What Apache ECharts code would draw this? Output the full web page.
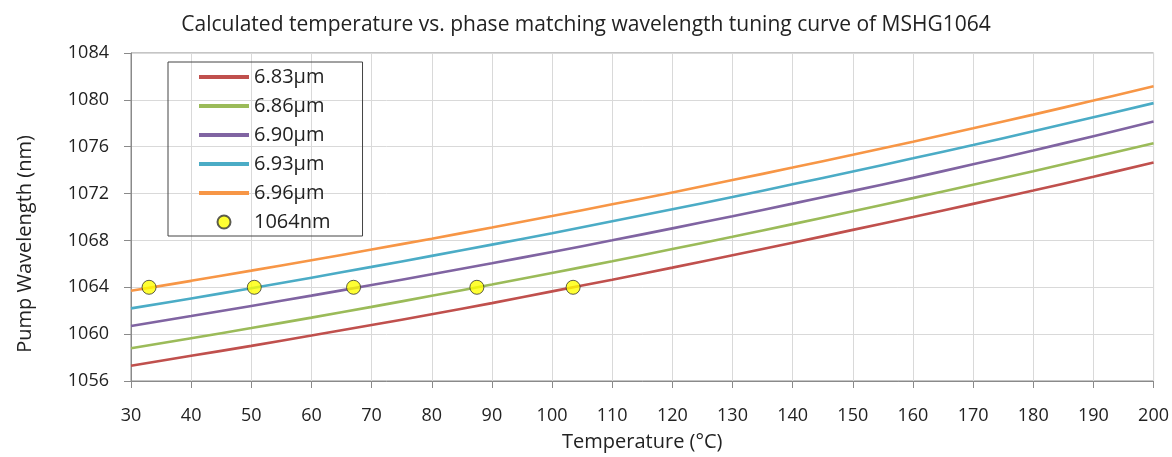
<!DOCTYPE html>
<html>
<head>
<meta charset="utf-8">
<script src="https://cdn.jsdelivr.net/npm/echarts@6/dist/echarts.min.js"></script>
<style>
  html, body { margin: 0; padding: 0; background: #fff; }
  #chart { width: 1172px; height: 457px; }
</style>
</head>
<body>
<div id="chart"></div>
<script>
// temperature (°C)
var temps = [30, 40, 50, 60, 70, 80, 90, 100, 110, 120, 130, 140, 150, 160, 170, 180, 190, 200];
// pump wavelength (nm) for each QPM period
var wl683 = [1057.3, 1058.15, 1059.0, 1059.88, 1060.78, 1061.7, 1062.65, 1063.65, 1064.65, 1065.68, 1066.73, 1067.8, 1068.9, 1070.0, 1071.12, 1072.26, 1073.44, 1074.65];
var wl686 = [1058.8, 1059.65, 1060.52, 1061.41, 1062.33, 1063.27, 1064.23, 1065.22, 1066.23, 1067.26, 1068.31, 1069.39, 1070.49, 1071.61, 1072.75, 1073.91, 1075.1, 1076.3];
var wl690 = [1060.7, 1061.55, 1062.41, 1063.29, 1064.19, 1065.11, 1066.05, 1067.02, 1068.01, 1069.03, 1070.07, 1071.14, 1072.23, 1073.34, 1074.5, 1075.68, 1076.9, 1078.15];
var wl693 = [1062.2, 1063.05, 1063.92, 1064.82, 1065.74, 1066.68, 1067.64, 1068.62, 1069.63, 1070.66, 1071.71, 1072.79, 1073.89, 1075.01, 1076.15, 1077.32, 1078.51, 1079.72];
var wl696 = [1063.7, 1064.55, 1065.42, 1066.31, 1067.22, 1068.15, 1069.1, 1070.08, 1071.08, 1072.1, 1073.15, 1074.22, 1075.31, 1076.43, 1077.57, 1078.74, 1079.94, 1081.17];
// 1064nm phase matching points
var pmTemps = [33, 50.5, 67, 87.5, 103.5];
var pmWl = [1064, 1064, 1064, 1064, 1064];

var names = ['6.83µm', '6.86µm', '6.90µm', '6.93µm', '6.96µm'];
var colors = ['#C0504D', '#9BBB59', '#8064A2', '#4BACC6', '#F79646'];
var curves = [wl683, wl686, wl690, wl693, wl696];

function pairs(xs, ys) {
  var out = [];
  for (var i = 0; i < xs.length; i++) out.push([xs[i], ys[i]]);
  return out;
}

var font = '"Open Sans", sans-serif';
var lineIcon = 'path://M0,0L50,0L50,4L0,4Z';
var chart = echarts.init(document.getElementById('chart'));

var series = [];
var legendData = [];
for (var i = 0; i < curves.length; i++) {
  series.push({
    name: names[i],
    type: 'line',
    smooth: 0.4,
    symbol: 'none',
    lineStyle: { color: colors[i], width: 2.6 },
    itemStyle: { color: colors[i] },
    data: pairs(temps, curves[i])
  });
  legendData.push({ name: names[i], icon: lineIcon });
}
series.push({
  name: '1064nm',
  type: 'scatter',
  symbol: 'circle',
  symbolSize: 14,
  itemStyle: { color: '#FFFF00', borderColor: '#333', borderWidth: 1 },
  z: 5,
  data: pairs(pmTemps, pmWl)
});
legendData.push({ name: '1064nm', icon: 'circle' });

var option = {
  animation: false,
  textStyle: { fontFamily: font },
  title: {
    text: 'Calculated temperature vs. phase matching wavelength tuning curve of MSHG1064',
    left: 'center',
    top: 10,
    textStyle: { fontFamily: font, fontSize: 21, fontWeight: 'normal', color: '#222' }
  },
  legend: {
    orient: 'vertical',
    left: 168,
    top: 62,
    padding: [5, 32, 4, 31],
    itemWidth: 50,
    itemHeight: 13,
    itemGap: 9,
    borderColor: '#444',
    borderWidth: 1,
    textStyle: { fontFamily: font, fontSize: 20, color: '#222' },
    data: legendData
  },
  grid: {
    left: 131,
    right: 18,
    top: 53,
    bottom: 74,
    show: true,
    borderColor: '#8a8a8a',
    borderWidth: 1,
    backgroundColor: 'transparent'
  },
  xAxis: {
    type: 'value',
    min: 30,
    max: 200,
    interval: 10,
    name: 'Temperature (°C)',
    nameLocation: 'middle',
    nameGap: 51,
    nameTextStyle: { fontFamily: font, fontSize: 20, color: '#222' },
    axisLine: { show: true, lineStyle: { color: '#8a8a8a' } },
    axisTick: { show: true, length: 7, lineStyle: { color: '#8a8a8a' } },
    axisLabel: { margin: 26, fontSize: 18, color: '#222', fontFamily: font },
    splitLine: { show: true, lineStyle: { color: '#d9d9d9' } }
  },
  yAxis: {
    type: 'value',
    min: 1056,
    max: 1084,
    interval: 4,
    name: 'Pump Wavelength (nm)',
    nameLocation: 'middle',
    nameGap: 96,
    nameTextStyle: { fontFamily: font, fontSize: 20, color: '#222', padding: [0, 54, 0, 0] },
    axisLine: { show: true, lineStyle: { color: '#8a8a8a' } },
    axisTick: { show: true, length: 7, lineStyle: { color: '#8a8a8a' } },
    axisLabel: {
      margin: 22, fontSize: 18, color: '#222', fontFamily: font,
      formatter: function (v) { return String(v); }
    },
    splitLine: { show: true, lineStyle: { color: '#d9d9d9' } }
  },
  series: series
};

chart.setOption(option);
</script>
</body>
</html>
